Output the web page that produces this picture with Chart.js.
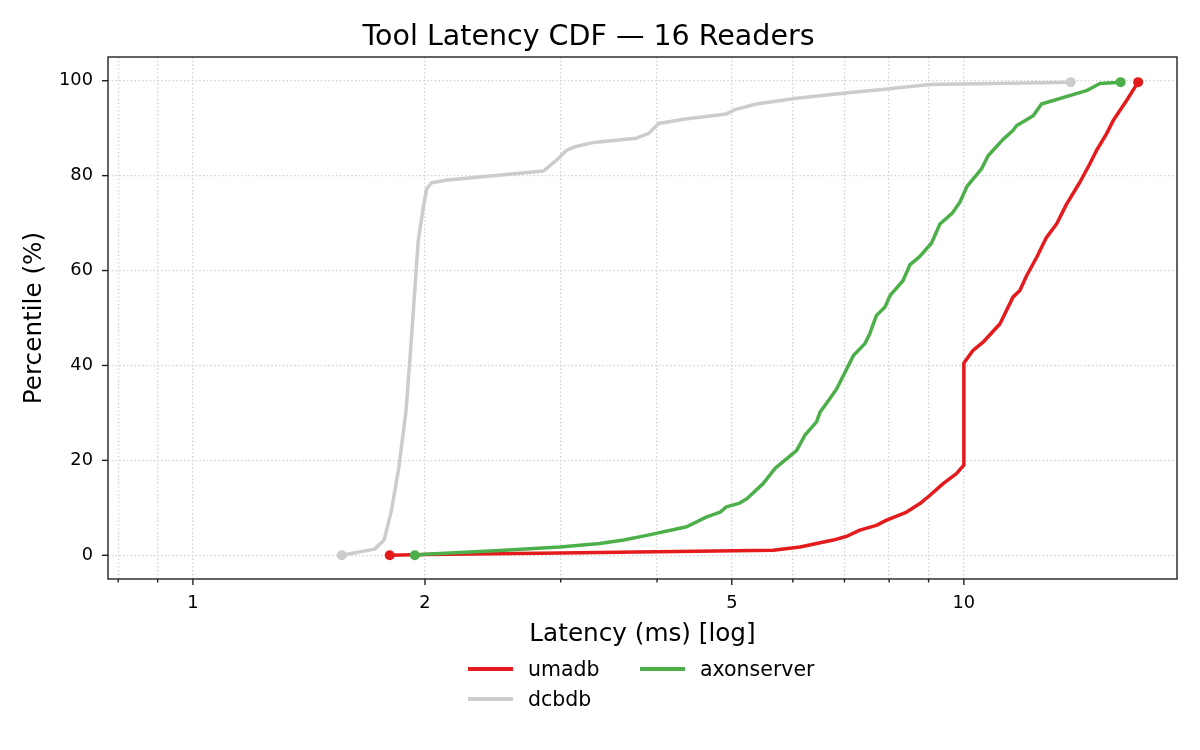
<!DOCTYPE html>
<html>
<head>
<meta charset="utf-8">
<title>Tool Latency CDF</title>
<script src="https://cdn.jsdelivr.net/npm/chart.js@4.4.1/dist/chart.umd.min.js"></script>
<style>
  html, body { margin: 0; padding: 0; background: #fff; }
  #wrap { position: relative; width: 1200px; height: 750px; font-family: "DejaVu Sans", sans-serif; }
  .leg { position: absolute; height: 24px; display: flex; align-items: center; font-size: 20.5px; color: #000; }
  .leg span.line { display: inline-block; width: 45px; height: 3.5px; margin-right: 15px; }
</style>
</head>
<body>
<div id="wrap">
  <canvas id="myChart" width="1200" height="750"></canvas>
  <div class="leg" style="left:468px; top:657px;"><span class="line" style="background:#e41a1c"></span>umadb</div>
  <div class="leg" style="left:640px; top:657px;"><span class="line" style="background:#4daf4a"></span>axonserver</div>
  <div class="leg" style="left:468px; top:687px;"><span class="line" style="background:#cccccc"></span>dcbdb</div>
</div>
<script>
// data (latency in ms, percentile in %)
const umadbLatency = [1.80, 2.0, 3.0, 4.0, 5.66, 6.13, 6.77, 7.05, 7.33, 7.70, 7.94, 8.43, 8.77, 9.03, 9.40, 9.78, 10.0, 10.0, 10.28, 10.59, 11.14, 11.25, 11.58, 11.82, 12.06, 12.43, 12.80, 13.19, 13.59, 14.14, 14.57, 14.86, 15.31, 15.62, 16.25, 16.83]
const umadbPct = [0, 0.15, 0.5, 0.75, 1.05, 1.75, 3.2, 4.0, 5.3, 6.3, 7.4, 9.1, 10.9, 12.6, 15.1, 17.2, 19.0, 40.5, 43.2, 44.9, 48.8, 50.2, 54.4, 55.8, 58.9, 62.8, 67.0, 69.8, 74.0, 78.6, 82.5, 85.3, 88.8, 91.6, 95.8, 99.7]

const axonserverLatency = [1.94, 2.0, 2.5, 2.99, 3.37, 3.62, 3.88, 4.37, 4.64, 4.83, 4.92, 5.12, 5.23, 5.49, 5.69, 6.07, 6.22, 6.44, 6.51, 6.70, 6.84, 7.12, 7.19, 7.44, 7.55, 7.70, 7.90, 8.02, 8.34, 8.51, 8.77, 9.08, 9.31, 9.66, 9.88, 10.1, 10.54, 10.75, 11.25, 11.58, 11.70, 12.30, 12.61, 14.42, 15.01, 15.97]
const axonserverPct = [0, 0.2, 1.0, 1.75, 2.5, 3.2, 4.2, 6.0, 8.1, 9.1, 10.2, 11.0, 11.9, 15.1, 18.3, 22.1, 25.3, 28.1, 30.2, 33.0, 35.1, 40.7, 42.1, 44.6, 46.7, 50.5, 52.3, 54.7, 57.9, 61.2, 63.0, 65.8, 69.8, 72.1, 74.4, 77.8, 81.4, 84.2, 87.7, 89.5, 90.5, 92.6, 95.1, 97.9, 99.4, 99.7]

const dcbdbLatency = [1.56, 1.72, 1.77, 1.81, 1.85, 1.89, 1.91, 1.94, 1.96, 1.99, 2.01, 2.04, 2.14, 2.85, 2.96, 3.05, 3.13, 3.31, 3.76, 3.90, 4.02, 4.33, 4.92, 5.05, 5.38, 6.07, 7.12, 7.78, 9.03, 13.76]
const dcbdbPct = [0, 1.3, 3.2, 9.5, 18.6, 30.5, 40.4, 55.8, 66.3, 73.3, 77.2, 78.5, 79.1, 81.0, 83.2, 85.3, 86.1, 87.0, 87.9, 88.9, 91.0, 91.9, 93.0, 93.9, 95.1, 96.3, 97.5, 98.1, 99.2, 99.7]

// ticks
const xMajorTicks = [1, 2, 5, 10]
const xTickLabels = ['1', '2', '5', '10']
const xMinorTicks = [0.8, 0.9, 3, 4, 6, 7, 8, 9]
const yTicks = [0, 20, 40, 60, 80, 100]

const toPoints = (xs, ys) => xs.map((x, i) => ({ x: x, y: ys[i] }))

const endDots = ctx => {
    const n = ctx.dataset.data.length
    return (ctx.dataIndex === 0 || ctx.dataIndex === n - 1) ? 5 : 0
}

const makeSet = (label, xs, ys, color, order) => ({
    label: label,
    data: toPoints(xs, ys),
    borderColor: color,
    backgroundColor: color,
    pointBackgroundColor: color,
    pointBorderWidth: 0,
    pointRadius: endDots,
    pointHoverRadius: endDots,
    borderWidth: 3.5,
    borderJoinStyle: 'round',
    tension: 0,
    fill: false,
    order: order,
})

// spines + outward tick marks, matplotlib style
const framePlugin = {
    id: 'frame',
    beforeDraw(chart) {
        const ctx = chart.ctx
        ctx.save()
        ctx.fillStyle = '#fff'
        ctx.fillRect(0, 0, chart.width, chart.height)
        ctx.restore()
    },
    afterDraw(chart) {
        const { ctx, chartArea: a, scales } = chart
        ctx.save()
        ctx.strokeStyle = '#222'
        ctx.lineWidth = 1.4
        ctx.strokeRect(a.left, a.top, a.right - a.left, a.bottom - a.top)
        scales.x.ticks.forEach(t => {
            const px = scales.x.getPixelForValue(t.value)
            const len = xMajorTicks.includes(t.value) ? 6 : 3.5
            ctx.beginPath()
            ctx.moveTo(px, a.bottom)
            ctx.lineTo(px, a.bottom + len)
            ctx.stroke()
        })
        scales.y.ticks.forEach(t => {
            const py = scales.y.getPixelForValue(t.value)
            ctx.beginPath()
            ctx.moveTo(a.left, py)
            ctx.lineTo(a.left - 6, py)
            ctx.stroke()
        })
        ctx.restore()
    }
}

const chartIt = () => {
    const ctx = document.getElementById('myChart').getContext('2d')
    const font = 'DejaVu Sans'
    new Chart(ctx, {
        type: 'line',
        data: {
            datasets: [
                makeSet('umadb', umadbLatency, umadbPct, '#e41a1c', 2),
                makeSet('dcbdb', dcbdbLatency, dcbdbPct, '#cccccc', 1),
                makeSet('axonserver', axonserverLatency, axonserverPct, '#4daf4a', 0),
            ]
        },
        options: {
            responsive: false,
            animation: false,
            devicePixelRatio: 1,
            layout: { padding: { left: 0, right: 23, top: 0, bottom: 0 } },
            plugins: {
                legend: { display: false },
                tooltip: { enabled: false },
                title: {
                    display: true,
                    text: 'Tool Latency CDF — 16 Readers',
                    color: '#000',
                    font: { family: font, size: 28.5, weight: 'normal', lineHeight: 1.2 },
                    padding: { top: 20, bottom: 2.8 },
                },
            },
            scales: {
                x: {
                    type: 'logarithmic',
                    min: 0.776,
                    max: 18.9,
                    afterBuildTicks: scale => {
                        scale.ticks = xMinorTicks.concat(xMajorTicks).sort((a, b) => a - b).map(v => ({ value: v }))
                    },
                    afterFit: scale => { scale.height = 171 },
                    ticks: {
                        autoSkip: false,
                        maxRotation: 0,
                        padding: 14,
                        color: '#000',
                        font: { family: font, size: 17.8 },
                        callback: value => {
                            const i = xMajorTicks.indexOf(value)
                            return i >= 0 ? xTickLabels[i] : ''
                        },
                    },
                    grid: { color: '#cfcfcf', lineWidth: 1.3, drawTicks: false },
                    border: { display: false, dash: [1.4, 2.4] },
                    title: {
                        display: true,
                        text: 'Latency (ms) [log]',
                        color: '#000',
                        font: { family: font, size: 24.7, lineHeight: 1.2 },
                        padding: { top: 0, bottom: 101 },
                    },
                },
                y: {
                    type: 'linear',
                    min: -5,
                    max: 105,
                    afterBuildTicks: scale => {
                        scale.ticks = yTicks.map(v => ({ value: v }))
                    },
                    afterFit: scale => { scale.width = 108 },
                    ticks: {
                        padding: 15,
                        color: '#000',
                        font: { family: font, size: 17.8 },
                    },
                    grid: { color: '#cfcfcf', lineWidth: 1.3, drawTicks: false },
                    border: { display: false, dash: [1.4, 2.4] },
                    title: {
                        display: true,
                        text: 'Percentile (%)',
                        color: '#000',
                        font: { family: font, size: 24.7, lineHeight: 1.2 },
                        padding: { top: 20, bottom: 0 },
                    },
                },
            },
        },
        plugins: [framePlugin],
    })
}
chartIt()
</script>
</body>
</html>
